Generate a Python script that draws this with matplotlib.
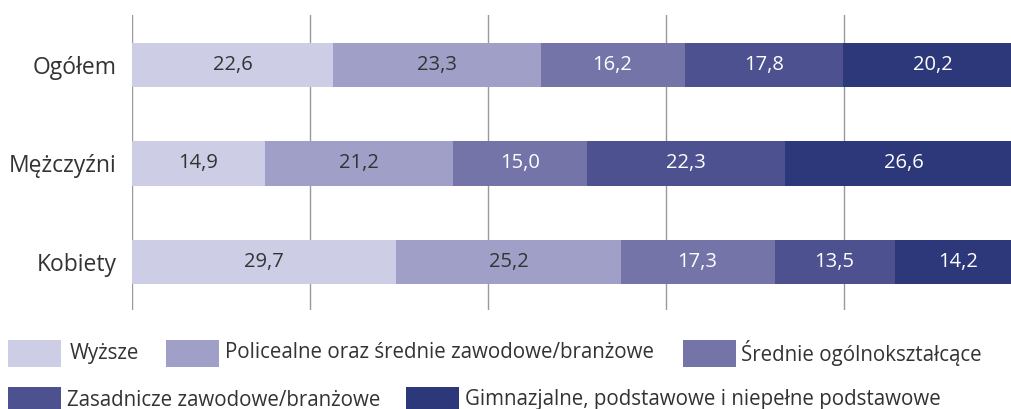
import matplotlib
matplotlib.use("Agg")
import matplotlib.pyplot as plt
from matplotlib.patches import Rectangle

categories = ["Ogółem", "Mężczyźni", "Kobiety"]
series_names = [
    "Wyższe",
    "Policealne oraz średnie zawodowe/branżowe",
    "Średnie ogólnokształcące",
    "Zasadnicze zawodowe/branżowe",
    "Gimnazjalne, podstawowe i niepełne podstawowe",
]
values = [
    [22.6, 14.9, 29.7],
    [23.3, 21.2, 25.2],
    [16.2, 15.0, 17.3],
    [17.8, 22.3, 13.5],
    [20.2, 26.6, 14.2],
]
colors = ["#cdcde5", "#a09fc8", "#7574a9", "#4d5190", "#2d387b"]
label_colors = ["#333333", "#333333", "white", "white", "white"]

plt.rcParams['font.family'] = ['Open Sans', 'DejaVu Sans']

W, H = 1011, 409
fig = plt.figure(figsize=(W / 100, H / 100), dpi=100)
ax_left, ax_right, ax_top, ax_bottom = 132, 1011, 15, 310
ax = fig.add_axes([ax_left / W, 1 - ax_bottom / H, (ax_right - ax_left) / W, (ax_bottom - ax_top) / H])

px_per_unit = 8.9
ax.set_xlim(0, (ax_right - ax_left) / px_per_unit)
ax.set_ylim(2.485, -0.505)

ypos = list(range(len(categories)))
left = [0.0] * len(categories)
for i, vals in enumerate(values):
    ax.barh(ypos, vals, left=left, height=0.45, color=colors[i], edgecolor='none', zorder=2)
    for j, (v, l) in enumerate(zip(vals, left)):
        ax.text(l + v / 2, ypos[j], f"{v:.1f}".replace(".", ","), ha='center', va='center',
                color=label_colors[i], fontsize=14.5, zorder=3)
    left = [l + v for l, v in zip(left, vals)]

ax.set_xticks([0, 20, 40, 60, 80])
ax.xaxis.grid(True, color='#999999', linewidth=1)
ax.set_axisbelow(True)
ax.tick_params(axis='x', which='both', length=0, labelbottom=False)
ax.set_yticks(ypos)
ax.set_yticklabels(categories, fontsize=16.5, color='#333333')
ax.tick_params(axis='y', length=0, pad=11)
for s in ax.spines.values():
    s.set_visible(False)

# legend (patch left, row top, text left, series index)
legend_items = [
    (8, 340, 70, 0),
    (166, 340, 225, 1),
    (683, 340, 741, 2),
    (8, 387, 67, 3),
    (406, 387, 465, 4),
]
for px, py, tx, k in legend_items:
    r = Rectangle((px / W, 1 - (py + 27) / H), 53 / W, 27 / H, transform=fig.transFigure,
                  facecolor=colors[k], edgecolor='none')
    fig.patches.append(r)
    fig.text(tx / W, 1 - (py + 13) / H, series_names[k], ha='left', va='center',
             fontsize=14.8, color='#333333')

fig.savefig("out.png", dpi=100)
